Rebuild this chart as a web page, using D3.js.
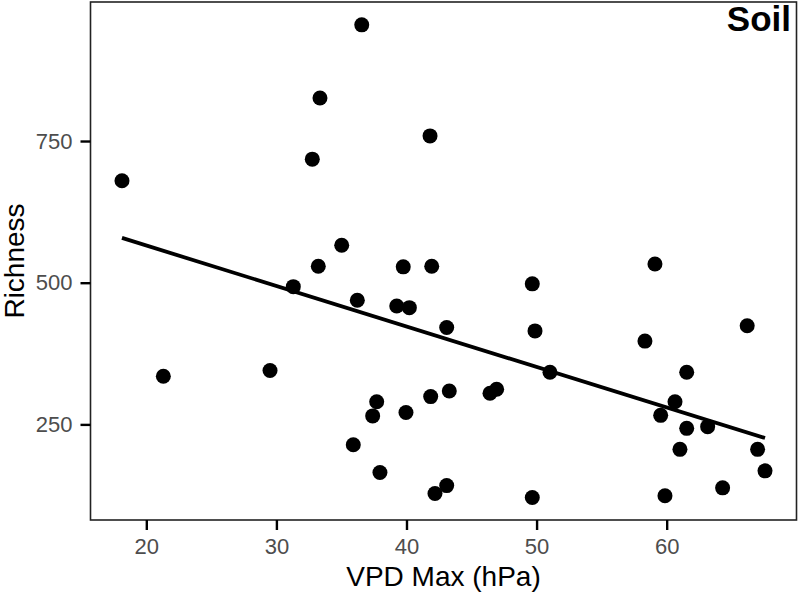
<!DOCTYPE html>
<html>
<head>
<meta charset="utf-8">
<script src="https://cdn.jsdelivr.net/npm/d3@7"></script>
<style>
  html, body { margin: 0; padding: 0; background: #fff; }
  svg { display: block; }
</style>
</head>
<body>
<svg id="chart" width="800" height="594"></svg>
<script>
// ---- data ----
const vpdMax = [36.56, 33.35, 32.76, 18.13, 35.02, 33.22, 39.75, 41.94, 31.30, 36.22,
                39.25, 40.22, 41.81, 49.67, 59.10, 21.31, 29.51, 37.71, 37.40, 39.96,
                35.91, 37.96, 43.09, 49.88, 58.33, 66.19, 51.03, 61.54, 41.86, 43.29,
                46.42, 46.93, 60.64, 59.54, 61.54, 63.15, 61.02, 66.99, 67.56, 42.19,
                43.09, 49.67, 59.87, 64.30];
const richness = [955, 826, 718, 680, 566, 529, 528, 529, 493, 469,
                  459, 456, 759, 498, 533, 335, 345, 290, 265, 271,
                  214, 165, 421, 415, 397, 424, 342, 342, 299, 309,
                  305, 312, 290, 266, 243, 246, 206, 206, 168, 128,
                  142, 121, 124, 138];
const trendX = [18.13, 67.56];
const trendY = [579, 226];
const xTicks = [20, 30, 40, 50, 60];
const yTicks = [250, 500, 750];
const xTitle = "VPD Max (hPa)";
const yTitle = "Richness";
const panelLabel = "Soil";

// ---- layout ----
const svg = d3.select("#chart");
const L = 90.5, R = 796.5, T = 2, B = 520;
const x = d3.scaleLinear().domain([15.71, 69.98]).range([L, R]);
const y = d3.scaleLinear().domain([81.3, 995.3]).range([B, T]);
const font = "'Liberation Sans', Arial, Helvetica, sans-serif";

// points
svg.append("g").selectAll("circle")
  .data(vpdMax.map((v, i) => [v, richness[i]]))
  .join("circle")
  .attr("cx", d => x(d[0]))
  .attr("cy", d => y(d[1]))
  .attr("r", 7.5)
  .attr("fill", "#000");

// trend line
svg.append("path")
  .datum(trendX.map((v, i) => [v, trendY[i]]))
  .attr("d", d3.line().x(d => x(d[0])).y(d => y(d[1])))
  .attr("fill", "none")
  .attr("stroke", "#000")
  .attr("stroke-width", 3.8);

// panel border
svg.append("rect")
  .attr("x", L).attr("y", T)
  .attr("width", R - L).attr("height", B - T)
  .attr("fill", "none")
  .attr("stroke", "#222")
  .attr("stroke-width", 1.6);

// axes
const xAxis = svg.append("g")
  .attr("transform", `translate(0,${B})`)
  .call(d3.axisBottom(x).tickValues(xTicks).tickSize(10).tickPadding(8).tickFormat(d3.format("d")));
const yAxis = svg.append("g")
  .attr("transform", `translate(${L},0)`)
  .call(d3.axisLeft(y).tickValues(yTicks).tickSize(10).tickPadding(8).tickFormat(d3.format("d")));

[xAxis, yAxis].forEach(g => {
  g.select(".domain").remove();
  g.selectAll(".tick line").attr("stroke", "#000").attr("stroke-width", 2.4);
  g.selectAll(".tick text")
    .attr("fill", "#4d4d4d")
    .style("font-family", font)
    .style("font-size", "22px");
});

// axis titles
svg.append("text")
  .attr("x", (L + R) / 2)
  .attr("y", 586)
  .attr("text-anchor", "middle")
  .style("font-family", font)
  .style("font-size", "28px")
  .attr("fill", "#000")
  .text(xTitle);

svg.append("text")
  .attr("transform", `translate(24,${(T + B) / 2}) rotate(-90)`)
  .attr("text-anchor", "middle")
  .style("font-family", font)
  .style("font-size", "28px")
  .attr("fill", "#000")
  .text(yTitle);

// panel label
svg.append("text")
  .attr("x", 791)
  .attr("y", 31)
  .attr("text-anchor", "end")
  .style("font-family", font)
  .style("font-size", "35px")
  .style("font-weight", "bold")
  .attr("fill", "#000")
  .text(panelLabel);
</script>
</body>
</html>
